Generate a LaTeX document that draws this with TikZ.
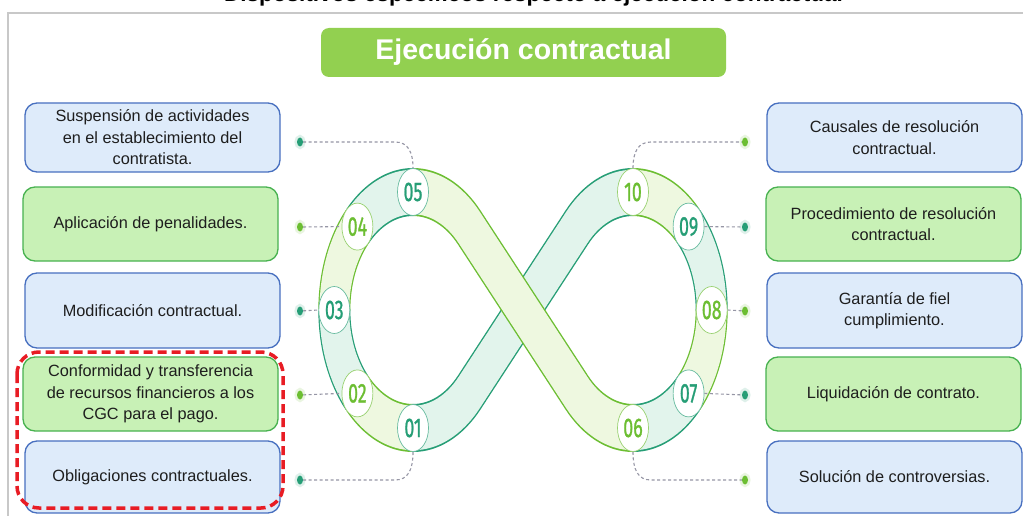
\documentclass[tikz,border=0pt]{standalone}
\usepackage{fontspec}
\usepackage{graphicx}
\setmainfont{Liberation Sans}
\newfontfamily\numfont[FakeBold=1.2]{Fira Sans}
\usetikzlibrary{shapes.geometric}
\definecolor{bT}{RGB}{38,158,118}
\definecolor{bG}{RGB}{108,190,50}
\definecolor{bTf}{RGB}{226,244,236}
\definecolor{bGf}{RGB}{238,248,224}
\definecolor{bluebox}{RGB}{222,235,250}
\definecolor{blueline}{RGB}{72,112,192}
\definecolor{greenbox}{RGB}{200,241,182}
\definecolor{greenline}{RGB}{72,178,80}
\definecolor{titlegreen}{RGB}{146,208,80}
\definecolor{conncol}{RGB}{150,150,165}
\definecolor{framecol}{RGB}{200,200,200}
\definecolor{redd}{RGB}{232,28,36}
\definecolor{txt}{RGB}{30,30,30}
\newcommand\nm[1]{\scalebox{0.66}[1]{#1}}
\newcommand\bandseg[3]{\draw[line width=48pt,#1,line cap=butt,line join=round] #3; \draw[line width=44.5pt,#2,line cap=butt,line join=round] #3;}
\begin{document}
\begin{tikzpicture}[x=1pt,y=-1pt,
  tbox/.style={rounded corners=12pt, line width=1.3pt, align=center, text=txt,
    font=\fontsize{16.3}{21.5}\selectfont, inner sep=0pt, minimum width=255pt},
  bluet/.style={tbox, draw=blueline, fill=bluebox},
  greent/.style={tbox, draw=greenline, fill=greenbox},
  num/.style={ellipse, fill=white, draw=#1!70, line width=0.7pt, text=#1,
    minimum width=31pt, minimum height=47pt, inner sep=0pt,
    font=\numfont\fontsize{27}{27}\selectfont},
  dotn/.style={ellipse, fill=#1, minimum width=6pt, minimum height=9pt, inner sep=0pt,
    preaction={draw=#1!15, line width=5pt}},
  conn/.style={draw=conncol, line width=1.1pt, dash pattern=on 3pt off 2.5pt}]
\useasboundingbox (0,0) rectangle (1023,516);
\fill[white] (0,0) rectangle (1023,516);
% cut-off heading and frame
\node[anchor=base, font=\bfseries\fontsize{22.5}{24}\selectfont] (toptitle) at (533.5,2) {Dispositivos específicos respecto a ejecución contractual};
\draw[framecol, line width=2pt] (7.5,516) -- (7.5,13) -- (1023,13);
% title
\node[fill=titlegreen, rounded corners=8pt, minimum width=405pt, minimum height=49pt, inner sep=0pt,
  text=white, font=\bfseries\fontsize{28.5}{30}\selectfont] (title) at (523.5,52.5) {Ejecución contractual};
% band
\begin{scope}[y=1pt, transform canvas={xshift=523pt, xscale=0.66667}]
\bandseg{bT}{bTf}{([shift={(-165,-310)}]90:118) arc[start angle=90,end angle=135,radius=118]}
\bandseg{bG}{bGf}{([shift={(-165,-310)}]135:118) arc[start angle=135,end angle=180,radius=118]}
\bandseg{bT}{bTf}{([shift={(-165,-310)}]180:118) arc[start angle=180,end angle=225,radius=118]}
\bandseg{bG}{bGf}{([shift={(-165,-310)}]225:118) arc[start angle=225,end angle=270,radius=118]}
\bandseg{bG}{bGf}{([shift={(165,-310)}]90:118) arc[start angle=90,end angle=45,radius=118]}
\bandseg{bT}{bTf}{([shift={(165,-310)}]45:118) arc[start angle=45,end angle=0,radius=118]}
\bandseg{bG}{bGf}{([shift={(165,-310)}]0:118) arc[start angle=0,end angle=-45,radius=118]}
\bandseg{bT}{bTf}{([shift={(165,-310)}]-45:118) arc[start angle=-45,end angle=-90,radius=118]}
\bandseg{bT}{bTf}{([shift={(-165,-310)}]270:118) arc[start angle=270,end angle=315.66,radius=118] -- ([shift={(165,-310)}]135.66:118) arc[start angle=135.66,end angle=90,radius=118]}
\bandseg{bG}{bGf}{([shift={(-165,-310)}]90:118) arc[start angle=90,end angle=44.34,radius=118] -- ([shift={(165,-310)}]224.34:118) arc[start angle=224.34,end angle=270,radius=118]}
\end{scope}
% number markers
\node[num=bT] (n05) at (413,192) {\nm{05}};
\node[num=bG] (n04) at (357.4,226.6) {\nm{04}};
\node[num=bT] (n03) at (334.3,310) {\nm{03}};
\node[num=bG] (n02) at (357.4,393.4) {\nm{02}};
\node[num=bT] (n01) at (413,428) {\nm{01}};
\node[num=bG] (n10) at (633,192) {\nm{10}};
\node[num=bT] (n09) at (688.6,226.6) {\nm{09}};
\node[num=bG] (n08) at (711.7,310) {\nm{08}};
\node[num=bT] (n07) at (688.6,393.4) {\nm{07}};
\node[num=bG] (n06) at (633,428) {\nm{06}};
% dots
\node[dotn=bT] (d05) at (300,142) {};
\node[dotn=bG] (d04) at (300,227) {};
\node[dotn=bT] (d03) at (300,311) {};
\node[dotn=bG] (d02) at (300,395) {};
\node[dotn=bT] (d01) at (300,480) {};
\node[dotn=bG] (d10) at (745,142) {};
\node[dotn=bT] (d09) at (745,227) {};
\node[dotn=bG] (d08) at (745,311) {};
\node[dotn=bT] (d07) at (745,395) {};
\node[dotn=bG] (d06) at (745,480) {};
% connectors
\draw[conn] (d05) -- (395,142) .. controls (408,142) and (413,152) .. (n05.north);
\draw[conn] (d04) -- (n04.west);
\draw[conn] (d03) -- (n03.west);
\draw[conn] (d02) -- (n02.west);
\draw[conn] (d01) -- (395,480) .. controls (408,480) and (413,470) .. (n01.south);
\draw[conn] (n10.north) .. controls (633,152) and (638,142) .. (651,142) -- (d10);
\draw[conn] (n09.east) -- (d09);
\draw[conn] (n08.east) -- (d08);
\draw[conn] (n07.east) -- (d07);
\draw[conn] (n06.south) .. controls (633,470) and (638,480) .. (651,480) -- (d06);
% left boxes
\node[bluet, minimum height=69pt] (L1) at (152.5,137.5) {Suspensión de actividades\\en el establecimiento del\\contratista.};
\node[greent, minimum height=74pt] (L2) at (150.5,224) {Aplicación de penalidades.};
\node[bluet, minimum height=75pt] (L3) at (152.5,310.5) {Modificación contractual.};
\node[greent, minimum height=74pt] (L4) at (150.5,394) {Conformidad y transferencia\\de recursos financieros a los\\CGC para el pago.};
\node[bluet, minimum height=72pt] (L5) at (152.5,477) {Obligaciones contractuales.};
% right boxes
\node[bluet, minimum height=69pt] (R1) at (894.5,137.5) {Causales de resolución\\contractual.};
\node[greent, minimum height=74pt] (R2) at (893.5,224) {Procedimiento de resolución\\contractual.};
\node[bluet, minimum height=75pt] (R3) at (894.5,310.5) {Garantía de fiel\\cumplimiento.};
\node[greent, minimum height=74pt] (R4) at (893.5,394) {Liquidación de contrato.};
\node[bluet, minimum height=72pt] (R5) at (894.5,477) {Solución de controversias.};
% highlight
\draw[redd, line width=3.5pt, dash pattern=on 9pt off 5pt, rounded corners=22pt] (17,352) rectangle (283,508);
\end{tikzpicture}
\end{document}
